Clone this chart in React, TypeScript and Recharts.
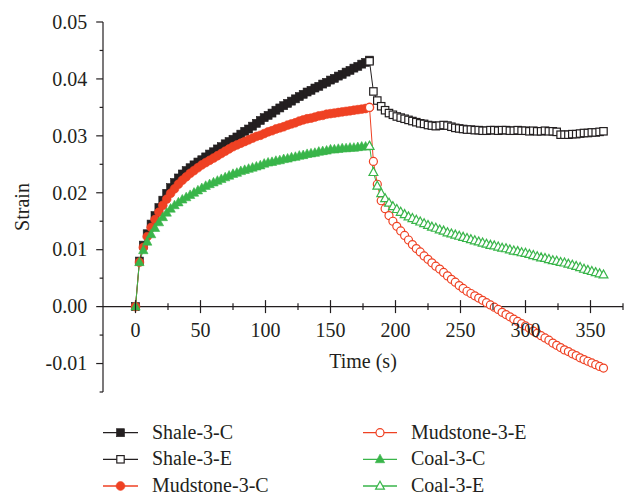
import React from 'react';
import { LineChart, Line, XAxis, YAxis, ReferenceLine, Label } from 'recharts';

const BLACK = '#231f20';
const RED = '#ef4123';
const GREEN = '#39b54a';
const FONT = '"Liberation Serif", "Times New Roman", serif';

// Creep (loading) stage times, s
const timeC = [0, 3, 6, 9, 12, 15, 18, 21, 24, 27, 30, 33, 36, 39, 42, 45, 48, 51, 54, 57, 60, 63, 66, 69, 72, 75, 78, 81, 84, 87, 90, 93, 96, 99, 102, 105, 108, 111, 114, 117, 120, 123, 126, 129, 132, 135, 138, 141, 144, 147, 150, 153, 156, 159, 162, 165, 168, 171, 174, 177, 180];
// Recovery (unloading) stage times, s
const timeE = [180, 183, 186, 189, 192, 195, 198, 201, 204, 207, 210, 213, 216, 219, 222, 225, 228, 231, 234, 237, 240, 243, 246, 249, 252, 255, 258, 261, 264, 267, 270, 273, 276, 279, 282, 285, 288, 291, 294, 297, 300, 303, 306, 309, 312, 315, 318, 321, 324, 327, 330, 333, 336, 339, 342, 345, 348, 351, 354, 357, 360];

const shaleC = [0, 0.0080, 0.0108, 0.0128, 0.0145, 0.0160, 0.0174, 0.0187, 0.0199, 0.0209, 0.0218, 0.0226, 0.0233, 0.0239, 0.0244, 0.0249, 0.0254, 0.0258, 0.0263, 0.0268, 0.0272, 0.0277, 0.0281, 0.0286, 0.0290, 0.0294, 0.0298, 0.0303, 0.0308, 0.0312, 0.0317, 0.0322, 0.0327, 0.0332, 0.0336, 0.0340, 0.0345, 0.0349, 0.0353, 0.0357, 0.0361, 0.0365, 0.0369, 0.0373, 0.0377, 0.0380, 0.0384, 0.0387, 0.0391, 0.0394, 0.0398, 0.0401, 0.0405, 0.0408, 0.0412, 0.0415, 0.0419, 0.0422, 0.0426, 0.0429, 0.0433];
const mudC = [0, 0.0078, 0.0104, 0.0123, 0.0139, 0.0153, 0.0166, 0.0178, 0.0189, 0.0199, 0.0207, 0.0215, 0.0222, 0.0228, 0.0234, 0.0239, 0.0244, 0.0249, 0.0253, 0.0257, 0.0261, 0.0265, 0.0269, 0.0273, 0.0277, 0.0281, 0.0284, 0.0287, 0.0290, 0.0293, 0.0296, 0.0299, 0.0301, 0.0304, 0.0307, 0.0309, 0.0312, 0.0314, 0.0316, 0.0319, 0.0321, 0.0323, 0.0326, 0.0328, 0.0330, 0.0331, 0.0333, 0.0335, 0.0336, 0.0338, 0.0339, 0.0340, 0.0341, 0.0342, 0.0343, 0.0344, 0.0345, 0.0346, 0.0347, 0.0348, 0.0350];
const coalC = [0, 0.0078, 0.0099, 0.0114, 0.0127, 0.0138, 0.0148, 0.0157, 0.0165, 0.0172, 0.0178, 0.0183, 0.0188, 0.0192, 0.0196, 0.0200, 0.0204, 0.0208, 0.0212, 0.0215, 0.0218, 0.0221, 0.0224, 0.0227, 0.0230, 0.0233, 0.0235, 0.0238, 0.0240, 0.0242, 0.0244, 0.0246, 0.0248, 0.0251, 0.0253, 0.0254, 0.0256, 0.0257, 0.0259, 0.0260, 0.0262, 0.0263, 0.0265, 0.0266, 0.0268, 0.0269, 0.0270, 0.0272, 0.0273, 0.0274, 0.0276, 0.0276, 0.0277, 0.0278, 0.0278, 0.0279, 0.0279, 0.0280, 0.0281, 0.0281, 0.0282];

const shaleE = [0.0431, 0.0378, 0.0362, 0.0352, 0.0345, 0.0340, 0.0337, 0.0334, 0.0332, 0.0330, 0.0328, 0.0326, 0.0324, 0.0322, 0.0321, 0.0319, 0.0318, 0.0317, 0.0318, 0.0319, 0.0318, 0.0316, 0.0314, 0.0313, 0.0312, 0.0311, 0.0311, 0.0310, 0.0310, 0.0309, 0.0309, 0.0310, 0.0310, 0.0309, 0.0310, 0.0310, 0.0309, 0.0309, 0.0310, 0.0309, 0.0309, 0.0308, 0.0309, 0.0308, 0.0308, 0.0309, 0.0308, 0.0308, 0.0307, 0.0302, 0.0302, 0.0302, 0.0303, 0.0303, 0.0304, 0.0305, 0.0305, 0.0306, 0.0306, 0.0307, 0.0308];
const mudE = [0.0350, 0.0255, 0.0215, 0.0186, 0.0172, 0.0160, 0.0150, 0.0141, 0.0133, 0.0125, 0.0117, 0.0109, 0.0102, 0.0096, 0.0089, 0.0083, 0.0077, 0.0071, 0.0066, 0.0060, 0.0054, 0.0048, 0.0043, 0.0037, 0.0032, 0.0027, 0.0023, 0.0019, 0.0015, 0.0011, 0.0007, 0.0003, -0.0001, -0.0005, -0.0010, -0.0014, -0.0018, -0.0022, -0.0026, -0.0030, -0.0034, -0.0038, -0.0043, -0.0047, -0.0051, -0.0055, -0.0059, -0.0064, -0.0068, -0.0072, -0.0076, -0.0079, -0.0083, -0.0086, -0.0090, -0.0093, -0.0096, -0.0099, -0.0102, -0.0105, -0.0108];
const coalE = [0.0282, 0.0236, 0.0212, 0.0199, 0.0190, 0.0182, 0.0176, 0.0171, 0.0166, 0.0162, 0.0158, 0.0155, 0.0152, 0.0149, 0.0146, 0.0143, 0.0140, 0.0138, 0.0135, 0.0133, 0.0130, 0.0128, 0.0126, 0.0124, 0.0122, 0.0120, 0.0118, 0.0116, 0.0114, 0.0112, 0.0110, 0.0108, 0.0107, 0.0105, 0.0103, 0.0102, 0.0100, 0.0098, 0.0097, 0.0095, 0.0094, 0.0092, 0.0090, 0.0088, 0.0086, 0.0085, 0.0083, 0.0081, 0.0080, 0.0078, 0.0077, 0.0075, 0.0073, 0.0071, 0.0069, 0.0066, 0.0064, 0.0062, 0.0060, 0.0058, 0.0056];

const xTicks = [0, 25, 50, 75, 100, 125, 150, 175, 200, 225, 250, 275, 300, 325, 350, 375];
const yTicks = [-0.015, -0.01, -0.005, 0, 0.005, 0.01, 0.015, 0.02, 0.025, 0.03, 0.035, 0.04, 0.045, 0.05];
const X_DOMAIN: [number, number] = [-25, 375];
const Y_DOMAIN: [number, number] = [-0.015, 0.05];

const zip = (ts: number[], vs: number[]) => ts.map((t, i) => ({ t, v: vs[i] }));

type Shape = 'square' | 'circle' | 'triangle';

const Marker = ({ shape, color, filled, cx, cy }: { shape: Shape; color: string; filled: boolean; cx: number; cy: number }) => {
  const fill = filled ? color : '#ffffff';
  const sw = filled ? 0.6 : 1.2;
  if (shape === 'square') {
    const s = filled ? 8 : 7.4;
    return <rect x={cx - s / 2} y={cy - s / 2} width={s} height={s} fill={fill} stroke={color} strokeWidth={sw} />;
  }
  if (shape === 'circle') {
    return <circle cx={cx} cy={cy} r={filled ? 4.4 : 4} fill={fill} stroke={color} strokeWidth={sw} />;
  }
  const h = filled ? 8.6 : 8;
  const w = filled ? 9.4 : 8.8;
  const pts = `${cx},${cy - h * 0.6} ${cx - w / 2},${cy + h * 0.4} ${cx + w / 2},${cy + h * 0.4}`;
  return <polygon points={pts} fill={fill} stroke={color} strokeWidth={sw} strokeLinejoin="miter" />;
};

const makeDot = (shape: Shape, color: string, filled: boolean) => (props: any) => {
  const { cx, cy, index } = props;
  if (cx == null || cy == null) return <g key={`d${index}`} />;
  return (
    <g key={`d${index}`}>
      <Marker shape={shape} color={color} filled={filled} cx={cx} cy={cy} />
    </g>
  );
};

const series = [
  { name: 'Shale-3-C', data: zip(timeC, shaleC), color: BLACK, shape: 'square' as Shape, filled: true },
  { name: 'Shale-3-E', data: zip(timeE, shaleE), color: BLACK, shape: 'square' as Shape, filled: false },
  { name: 'Mudstone-3-C', data: zip(timeC, mudC), color: RED, shape: 'circle' as Shape, filled: true },
  { name: 'Mudstone-3-E', data: zip(timeE, mudE), color: RED, shape: 'circle' as Shape, filled: false },
  { name: 'Coal-3-C', data: zip(timeC, coalC), color: GREEN, shape: 'triangle' as Shape, filled: true },
  { name: 'Coal-3-E', data: zip(timeE, coalE), color: GREEN, shape: 'triangle' as Shape, filled: false },
];

const CHART_W = 630;
const CHART_H = 400;
const MARGIN = { top: 22, right: 7, bottom: 0, left: 0 };
const X_AXIS_H = 8;
const PLOT_H = CHART_H - MARGIN.top - MARGIN.bottom - X_AXIS_H;
// distance from bottom of plot to the y = 0 line
const ZERO_OFFSET = (PLOT_H * (0 - Y_DOMAIN[0])) / (Y_DOMAIN[1] - Y_DOMAIN[0]);

const XTick = (props: any) => {
  const { x, y, payload } = props;
  const v = payload.value as number;
  const y0 = y - ZERO_OFFSET;
  const major = v % 50 === 0;
  const len = major ? 6.5 : 3.3;
  return (
    <g>
      <line x1={x} x2={x} y1={y0 - len} y2={y0 + len} stroke={BLACK} strokeWidth={1.2} />
      {major && (
        <text x={x} y={y0 + 30} textAnchor="middle" fontFamily={FONT} fontSize={20} fill={BLACK}>
          {v}
        </text>
      )}
    </g>
  );
};

const YTick = (props: any) => {
  const { x, y, payload } = props;
  const v = payload.value as number;
  const major = Math.round(v * 1000) % 10 === 0;
  const len = major ? 6.8 : 3.4;
  return (
    <g>
      <line x1={x - len} x2={x} y1={y} y2={y} stroke={BLACK} strokeWidth={1.2} />
      {major && (
        <text x={x - 15.8} y={y + 6.8} textAnchor="end" fontFamily={FONT} fontSize={20} fill={BLACK}>
          {v.toFixed(2)}
        </text>
      )}
    </g>
  );
};

const StrainLabel = (props: any) => {
  const vb = props.viewBox || { x: 0, y: MARGIN.top, width: 103, height: PLOT_H };
  const cx = vb.x + 29;
  const cy = vb.y + vb.height / 2;
  return (
    <text x={cx} y={cy} transform={`rotate(-90 ${cx} ${cy})`} textAnchor="middle" fontFamily={FONT} fontSize={20} fill={BLACK}>
      Strain
    </text>
  );
};

const TimeLabel = (props: any) => {
  const vb = props.viewBox || { x: 103, y: CHART_H - X_AXIS_H, width: 520, height: X_AXIS_H };
  const cx = vb.x + vb.width / 2;
  const y0 = vb.y - ZERO_OFFSET;
  return (
    <text x={cx} y={y0 + 61.6} textAnchor="middle" fontFamily={FONT} fontSize={20} fill={BLACK}>
      Time (s)
    </text>
  );
};

const legendCols = [
  { lineX1: 103, lineX2: 138, textX: 152, items: [0, 1, 2] },
  { lineX1: 363, lineX2: 397, textX: 411, items: [3, 4, 5] },
];
const legendRowLineY = [22.7, 49.3, 76];

const ChartLegend = () => (
  <svg width={630} height={87} style={{ position: 'absolute', left: 0, top: 410 }}>
    {legendCols.map((col, ci) =>
      col.items.map((si, ri) => {
        const s = series[si];
        const ly = legendRowLineY[ri];
        const mx = (col.lineX1 + col.lineX2) / 2;
        return (
          <g key={`${ci}-${ri}`}>
            <line x1={col.lineX1} x2={col.lineX2} y1={ly} y2={ly} stroke={s.color} strokeWidth={1.3} />
            <Marker shape={s.shape} color={s.color} filled={s.filled} cx={mx} cy={ly} />
            <text x={col.textX} y={ly + 5.8} fontFamily={FONT} fontSize={20} fill={BLACK}>
              {s.name}
            </text>
          </g>
        );
      })
    )}
  </svg>
);

export default function App() {
  return (
    <div style={{ position: 'absolute', left: 0, top: 0, width: 630, height: 497, background: '#ffffff' }}>
      <LineChart width={CHART_W} height={CHART_H} margin={MARGIN}>
        <XAxis
          type="number"
          dataKey="t"
          domain={X_DOMAIN}
          ticks={xTicks}
          interval={0}
          allowDataOverflow
          axisLine={false}
          tickLine={false}
          tickSize={0}
          tickMargin={0}
          height={X_AXIS_H}
          tick={<XTick />}
        >
          <Label content={<TimeLabel />} />
        </XAxis>
        <YAxis
          type="number"
          domain={Y_DOMAIN}
          ticks={yTicks}
          interval={0}
          allowDataOverflow
          width={103}
          axisLine={{ stroke: BLACK, strokeWidth: 1.2 }}
          tickLine={false}
          tickSize={0}
          tickMargin={0}
          tick={<YTick />}
        >
          <Label content={<StrainLabel />} />
        </YAxis>
        <ReferenceLine y={0} stroke={BLACK} strokeWidth={1.2} />
        {series.map((s) => (
          <Line
            key={s.name}
            name={s.name}
            data={s.data}
            dataKey="v"
            type="linear"
            stroke={s.color}
            strokeWidth={1}
            dot={makeDot(s.shape, s.color, s.filled)}
            activeDot={false}
            isAnimationActive={false}
          />
        ))}
      </LineChart>
      <ChartLegend />
    </div>
  );
}
